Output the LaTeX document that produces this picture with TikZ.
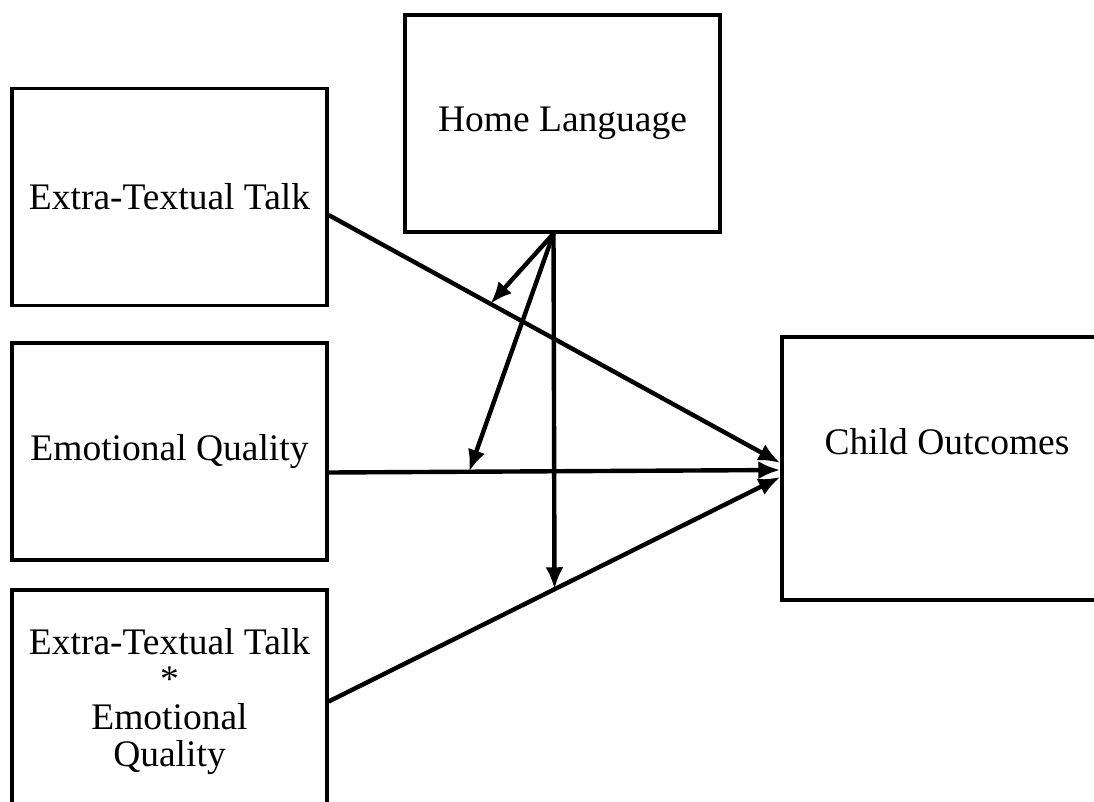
\documentclass[tikz,border=0pt]{standalone}
\usepackage{fontspec}
\setmainfont{Liberation Serif}
\usetikzlibrary{arrows.meta,positioning}

\begin{document}
\begin{tikzpicture}[x=1pt, y=1pt, node distance=250pt,
  factor/.style={rectangle, draw=black, line width=3.2pt, minimum width=315pt, minimum height=217pt, align=center, font=\fontsize{37.5}{37.5}\selectfont},
  effect/.style={draw, line width=4.4pt, -{Latex[length=22pt,width=18pt]}}]

  \clip (0,0) rectangle (1094,-801);

  \node [factor] at (169.5,-451.5) (emo) {Emotional Quality};
  \node [factor, above of=emo, yshift=4.5pt] (talk) {Extra-Textual Talk};
  \node [factor, below of=emo, minimum height=223pt] (inter) {Extra-Textual Talk\\*\\Emotional\\Quality};
  \node [factor, right of=talk, xshift=143pt, yshift=73.5pt] (home) {Home Language};
  \node [factor, right of=emo, xshift=527.5pt, yshift=-17pt, minimum width=330pt, minimum height=263pt,
    label={[font=\fontsize{37.5}{37.5}\selectfont, yshift=27pt]center:Child Outcomes}] (outcome) {};

  \coordinate [xshift=-9pt] (hub) at (home.south);

  \path [effect] ([yshift=-18pt]talk.east) -- coordinate[pos=0.358] (m1) ([yshift=5.5pt]outcome.west);
  \path [effect] ([yshift=-21pt]emo.east) -- coordinate[pos=0.311] (m2) ([yshift=-1.5pt]outcome.west);
  \path [effect] (inter.east) -- coordinate[pos=0.5] (m3) ([yshift=-8.5pt]outcome.west);

  \path [effect] (hub) -- (m1);
  \path [effect] (hub) -- (m2);
  \path [effect] (hub) -- (m3);
\end{tikzpicture}
\end{document}
